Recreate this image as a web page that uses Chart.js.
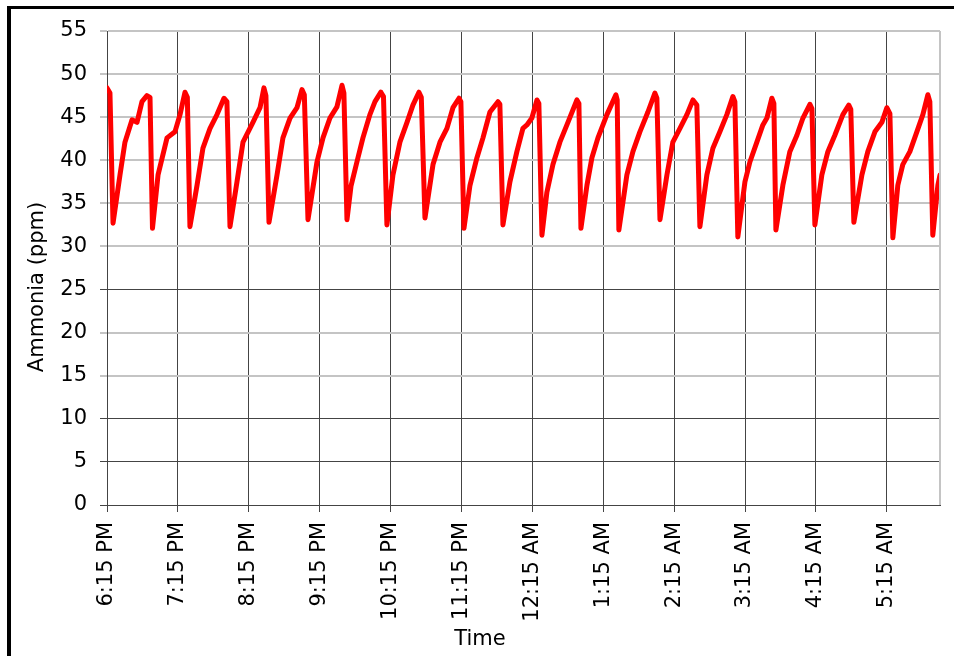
<!DOCTYPE html>
<html>
<head>
<meta charset="utf-8">
<script src="https://cdn.jsdelivr.net/npm/chart.js@4.4.1/dist/chart.umd.min.js"></script>
<style>
    body { margin: 0; background: #fff; overflow: hidden; }
    #wrap { position: relative; width: 954px; height: 656px; }
    #frame {
        position: absolute; left: 7px; top: 6px; right: 0; bottom: 0;
        border-left: 4px solid #000; border-top: 3px solid #000;
        pointer-events: none;
    }
</style>
</head>
<body>
<div id="wrap">
    <canvas id="ammoniaChart" width="954" height="656"></canvas>
    <div id="frame"></div>
</div>
<script>
// minutes after 6:15 PM
const minutes = [
    0, 2.5, 5.1, 11.0, 15.2, 21.2, 25.4, 29.6, 33.8, 36.4,
    38.5, 43.2, 50.8, 57.5, 61.8, 66.0, 68.0,
    70.2, 76.2, 81.2, 87.2, 93.1, 99.0, 101.5,
    104.1, 110.0, 115.1, 123.5, 129.5, 132.8, 134.5,
    137.1, 143.9, 148.9, 154.9, 160.8, 165.0, 167.0,
    170.1, 177.7, 182.8, 188.7, 194.6, 198.9, 200.5,
    203.1, 206.5, 211.5, 216.6, 222.5, 226.8, 231.8, 234.0,
    236.9, 242.0, 247.9, 253.9, 258.9, 264.0, 266.0,
    269.1, 275.9, 281.8, 287.7, 292.8, 297.9, 299.5,
    302.1, 307.2, 313.1, 318.2, 324.1, 330.9, 332.5,
    335.1, 341.0, 346.9, 352.0, 355.4, 359.6, 363.9, 365.5,
    368.1, 372.3, 377.4, 383.3, 390.1, 397.7, 399.4,
    401.1, 406.2, 410.4, 415.5, 423.1, 430.7, 431.8,
    433.2, 440.0, 445.1, 451.0, 457.8, 463.7, 465.4,
    468.0, 473.9, 478.9, 484.9, 490.8, 495.9, 499.2,
    501.8, 507.7, 512.8, 518.7, 524.6, 529.7, 531.4,
    533.9, 539.9, 544.1, 550.0, 555.1, 558.5, 562.7, 564.4,
    566.1, 572.0, 577.9, 583.9, 589.0, 594.9, 596.6,
    599.1, 605.0, 610.1, 616.0, 622.8, 627.8, 629.5,
    632.1, 638.9, 643.9, 649.9, 655.8, 660.0, 662.6,
    665.1, 669.3, 673.5, 679.5, 685.4, 690.5, 694.7, 696.4,
    698.9, 703.2, 705
];
const ammonia = [
    48.4, 47.8, 32.7, 38.3, 42.1, 44.7, 44.4, 46.8, 47.5, 47.3,
    32.1, 38.3, 42.6, 43.3, 45.3, 47.9, 47.3,
    32.3, 37.1, 41.4, 43.7, 45.3, 47.2, 46.8,
    32.3, 37.5, 42.1, 44.4, 46.1, 48.4, 47.5,
    32.8, 38.3, 42.6, 44.9, 46.1, 48.2, 47.6,
    33.1, 39.8, 42.6, 44.9, 46.2, 48.7, 47.8,
    33.1, 37.0, 39.8, 42.6, 45.3, 46.8, 47.9, 47.4,
    32.5, 38.3, 42.1, 44.4, 46.4, 47.9, 47.3,
    33.3, 39.5, 42.1, 43.7, 46.1, 47.2, 46.8,
    32.1, 37.1, 40.3, 42.6, 45.6, 46.8, 46.5,
    32.5, 37.5, 41.0, 43.7, 44.1, 44.9, 47.0, 46.6,
    31.3, 36.3, 39.5, 42.1, 44.4, 47.0, 46.6,
    32.1, 37.1, 40.3, 42.6, 45.3, 47.6, 47.0,
    31.9, 38.3, 41.0, 43.3, 45.6, 47.8, 47.2,
    33.1, 38.3, 42.1, 43.7, 45.3, 47.0, 46.4,
    32.3, 38.3, 41.4, 43.3, 45.3, 47.4, 46.8,
    31.1, 37.5, 39.8, 42.1, 44.1, 44.9, 47.2, 46.6,
    31.9, 37.1, 41.0, 42.9, 44.9, 46.5, 46.0,
    32.5, 38.3, 41.0, 42.9, 45.3, 46.4, 45.9,
    32.8, 38.3, 41.0, 43.3, 44.4, 46.1, 45.4,
    31.0, 37.1, 39.5, 41.0, 43.3, 45.3, 47.6, 46.8,
    31.3, 37.1, 38.3
];
const timeLabels = [
    '6:15 PM', '7:15 PM', '8:15 PM', '9:15 PM', '10:15 PM', '11:15 PM',
    '12:15 AM', '1:15 AM', '2:15 AM', '3:15 AM', '4:15 AM', '5:15 AM'
];
const darkGridValues = [0, 5, 10, 25];

const font = { family: '"DejaVu Sans", sans-serif', size: 21 };

// axis titles and the right edge of the plot
const extras = {
    id: 'extras',
    afterDraw(chart) {
        const { ctx, chartArea } = chart;
        ctx.save();
        ctx.strokeStyle = '#c4c4c4';
        ctx.lineWidth = 2;
        ctx.beginPath();
        ctx.moveTo(chartArea.right, chartArea.top);
        ctx.lineTo(chartArea.right, chartArea.bottom);
        ctx.stroke();

        ctx.fillStyle = '#000';
        ctx.font = '21px "DejaVu Sans", sans-serif';
        ctx.textAlign = 'center';
        ctx.textBaseline = 'middle';
        ctx.fillText('Time', chartArea.left + 373, 640);
        ctx.translate(38, (chartArea.top + chartArea.bottom) / 2 + 19);
        ctx.rotate(-Math.PI / 2);
        ctx.fillText('Ammonia (ppm)', 0, 0);
        ctx.restore();
    }
};

const ctx = document.getElementById('ammoniaChart').getContext('2d');
new Chart(ctx, {
    type: 'line',
    data: {
        datasets: [{
            label: 'Ammonia',
            data: minutes.map((m, i) => ({ x: m, y: ammonia[i] })),
            borderColor: '#ff0000',
            borderWidth: 5,
            pointRadius: 0,
            tension: 0,
            borderJoinStyle: 'round',
            borderCapStyle: 'round'
        }]
    },
    options: {
        responsive: false,
        animation: false,
        layout: { padding: { top: 31, right: 14, left: 0, bottom: 0 } },
        plugins: {
            legend: { display: false },
            tooltip: { enabled: false }
        },
        scales: {
            x: {
                type: 'linear',
                min: 0,
                max: 705,
                afterBuildTicks: (scale) => {
                    scale.ticks = scale.ticks.filter(t => t.value % 60 === 0);
                },
                afterFit: (scale) => { scale.height = 151; },
                ticks: {
                    stepSize: 60,
                    autoSkip: false,
                    minRotation: 90,
                    maxRotation: 90,
                    padding: 10,
                    color: '#000',
                    font: font,
                    callback: (value) => timeLabels[value / 60]
                },
                grid: { color: '#444', lineWidth: 1, tickLength: 7 },
                border: { color: '#444', width: 1 }
            },
            y: {
                min: 0,
                max: 55,
                afterFit: (scale) => { scale.width = 107; },
                ticks: {
                    stepSize: 5,
                    padding: 13,
                    color: '#000',
                    font: font
                },
                grid: {
                    color: (c) => darkGridValues.includes(c.tick.value) ? '#444' : '#c4c4c4',
                    lineWidth: (c) => darkGridValues.includes(c.tick.value) ? 1 : 2,
                    tickLength: 7
                },
                border: { color: '#444', width: 1 }
            }
        }
    },
    plugins: [extras]
});
</script>
</body>
</html>
